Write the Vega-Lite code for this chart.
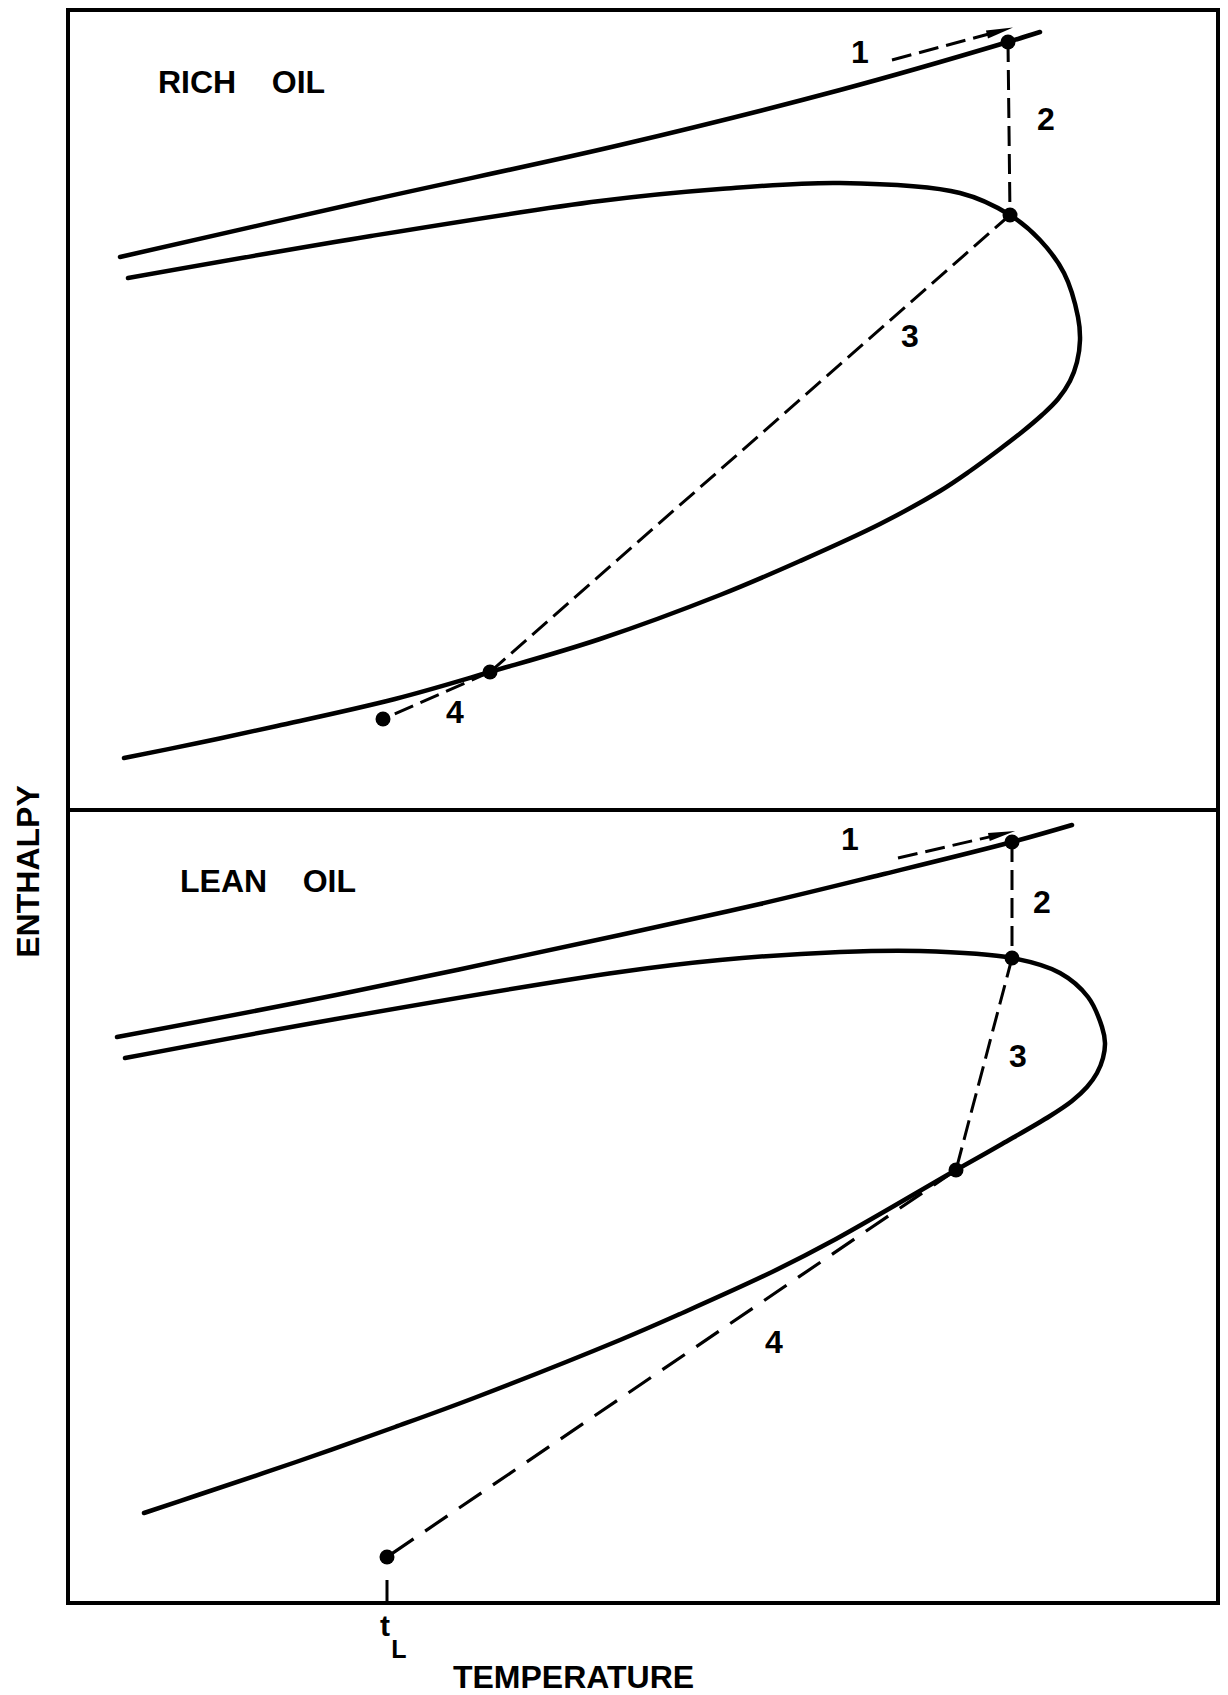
{
  "$schema": "https://vega.github.io/schema/vega-lite/v6.json",
  "width": 1150,
  "height": 1593,
  "autosize": {"type": "none"},
  "padding": {"left": 68, "top": 10, "right": 10, "bottom": 92},
  "background": "white",
  "config": {
    "view": {"stroke": "black", "strokeWidth": 4},
    "font": "Liberation Sans"
  },
  "datasets": {
    "curves": [
      {"s": "rich_vapor", "i": 0, "t": 52, "h": 1346},
      {"s": "rich_vapor", "i": 1, "t": 303, "h": 1403},
      {"s": "rich_vapor", "i": 2, "t": 552, "h": 1458},
      {"s": "rich_vapor", "i": 3, "t": 772, "h": 1513},
      {"s": "rich_vapor", "i": 4, "t": 940, "h": 1561},
      {"s": "rich_vapor", "i": 5, "t": 972, "h": 1571},
      {"s": "rich_env", "i": 0, "t": 60, "h": 1325},
      {"s": "rich_env", "i": 1, "t": 303, "h": 1367},
      {"s": "rich_env", "i": 2, "t": 532, "h": 1402},
      {"s": "rich_env", "i": 3, "t": 652, "h": 1414},
      {"s": "rich_env", "i": 4, "t": 772, "h": 1420},
      {"s": "rich_env", "i": 5, "t": 892, "h": 1410},
      {"s": "rich_env", "i": 6, "t": 942, "h": 1388},
      {"s": "rich_env", "i": 7, "t": 972, "h": 1363},
      {"s": "rich_env", "i": 8, "t": 996, "h": 1330},
      {"s": "rich_env", "i": 9, "t": 1010, "h": 1286},
      {"s": "rich_env", "i": 10, "t": 1012, "h": 1263},
      {"s": "rich_env", "i": 11, "t": 1009, "h": 1241},
      {"s": "rich_env", "i": 12, "t": 1002, "h": 1222},
      {"s": "rich_env", "i": 13, "t": 990, "h": 1204},
      {"s": "rich_env", "i": 14, "t": 974, "h": 1188},
      {"s": "rich_env", "i": 15, "t": 954, "h": 1171},
      {"s": "rich_env", "i": 16, "t": 932, "h": 1154},
      {"s": "rich_env", "i": 17, "t": 902, "h": 1132},
      {"s": "rich_env", "i": 18, "t": 872, "h": 1112},
      {"s": "rich_env", "i": 19, "t": 812, "h": 1079},
      {"s": "rich_env", "i": 20, "t": 732, "h": 1042},
      {"s": "rich_env", "i": 21, "t": 652, "h": 1008},
      {"s": "rich_env", "i": 22, "t": 532, "h": 964},
      {"s": "rich_env", "i": 23, "t": 422, "h": 931},
      {"s": "rich_env", "i": 24, "t": 327, "h": 904},
      {"s": "rich_env", "i": 25, "t": 209, "h": 877},
      {"s": "rich_env", "i": 26, "t": 130, "h": 860},
      {"s": "rich_env", "i": 27, "t": 56, "h": 845},
      {"s": "lean_vapor", "i": 0, "t": 49, "h": 566},
      {"s": "lean_vapor", "i": 1, "t": 268, "h": 608},
      {"s": "lean_vapor", "i": 2, "t": 552, "h": 668},
      {"s": "lean_vapor", "i": 3, "t": 692, "h": 699},
      {"s": "lean_vapor", "i": 4, "t": 812, "h": 728},
      {"s": "lean_vapor", "i": 5, "t": 944, "h": 761},
      {"s": "lean_vapor", "i": 6, "t": 1004, "h": 778},
      {"s": "lean_env", "i": 0, "t": 57, "h": 545},
      {"s": "lean_env", "i": 1, "t": 268, "h": 584},
      {"s": "lean_env", "i": 2, "t": 552, "h": 631},
      {"s": "lean_env", "i": 3, "t": 652, "h": 643},
      {"s": "lean_env", "i": 4, "t": 772, "h": 651},
      {"s": "lean_env", "i": 5, "t": 852, "h": 652},
      {"s": "lean_env", "i": 6, "t": 944, "h": 645},
      {"s": "lean_env", "i": 7, "t": 992, "h": 630},
      {"s": "lean_env", "i": 8, "t": 1020, "h": 606},
      {"s": "lean_env", "i": 9, "t": 1034, "h": 576},
      {"s": "lean_env", "i": 10, "t": 1037, "h": 560},
      {"s": "lean_env", "i": 11, "t": 1035, "h": 545},
      {"s": "lean_env", "i": 12, "t": 1029, "h": 530},
      {"s": "lean_env", "i": 13, "t": 1019, "h": 516},
      {"s": "lean_env", "i": 14, "t": 1004, "h": 502},
      {"s": "lean_env", "i": 15, "t": 982, "h": 487},
      {"s": "lean_env", "i": 16, "t": 934, "h": 459},
      {"s": "lean_env", "i": 17, "t": 888, "h": 433},
      {"s": "lean_env", "i": 18, "t": 768, "h": 364},
      {"s": "lean_env", "i": 19, "t": 704, "h": 331},
      {"s": "lean_env", "i": 20, "t": 612, "h": 289},
      {"s": "lean_env", "i": 21, "t": 552, "h": 263},
      {"s": "lean_env", "i": 22, "t": 406, "h": 205},
      {"s": "lean_env", "i": 23, "t": 327, "h": 176},
      {"s": "lean_env", "i": 24, "t": 228, "h": 141},
      {"s": "lean_env", "i": 25, "t": 130, "h": 108},
      {"s": "lean_env", "i": 26, "t": 76, "h": 90}
    ],
    "steps": [
      {"s": "r1", "i": 0, "t": 824, "h": 1543},
      {"s": "r1", "i": 1, "t": 932, "h": 1572},
      {"s": "r2", "i": 0, "t": 940, "h": 1561},
      {"s": "r2", "i": 1, "t": 942, "h": 1388},
      {"s": "r3", "i": 0, "t": 942, "h": 1388},
      {"s": "r3", "i": 1, "t": 422, "h": 931},
      {"s": "r4", "i": 0, "t": 422, "h": 931},
      {"s": "r4", "i": 1, "t": 315, "h": 884},
      {"s": "l1", "i": 0, "t": 830, "h": 745},
      {"s": "l1", "i": 1, "t": 934, "h": 769},
      {"s": "l2", "i": 0, "t": 944, "h": 761},
      {"s": "l2", "i": 1, "t": 944, "h": 645},
      {"s": "l3", "i": 0, "t": 944, "h": 645},
      {"s": "l3", "i": 1, "t": 888, "h": 433},
      {"s": "l4", "i": 0, "t": 888, "h": 433},
      {"s": "l4", "i": 1, "t": 319, "h": 46}
    ],
    "points": [
      {"t": 940, "h": 1561},
      {"t": 942, "h": 1388},
      {"t": 422, "h": 931},
      {"t": 315, "h": 884},
      {"t": 944, "h": 761},
      {"t": 944, "h": 645},
      {"t": 888, "h": 433},
      {"t": 319, "h": 46}
    ],
    "arrows": [
      {"t": 932, "h": 1572, "angle": 345},
      {"t": 934, "h": 769, "angle": 347}
    ],
    "numbers": [
      {"label": "1", "t": 792, "h": 1550},
      {"label": "2", "t": 978, "h": 1483},
      {"label": "3", "t": 842, "h": 1266},
      {"label": "4", "t": 387, "h": 890},
      {"label": "1", "t": 782, "h": 763},
      {"label": "2", "t": 974, "h": 700},
      {"label": "3", "t": 950, "h": 546},
      {"label": "4", "t": 706, "h": 260}
    ],
    "panels": [
      {"label": "RICH\u00a0\u00a0\u00a0\u00a0OIL", "t": 90, "h": 1510},
      {"label": "LEAN\u00a0\u00a0\u00a0\u00a0OIL", "t": 112, "h": 711}
    ]
  },
  "encoding": {
    "x": {
      "field": "t", "type": "quantitative",
      "scale": {"domain": [0, 1150], "nice": false, "zero": false},
      "axis": {
        "title": "TEMPERATURE", "domain": false, "ticks": false, "labels": false, "grid": false,
        "titleFontSize": 32, "titleFontWeight": "bold", "titleColor": "black",
        "titleX": 505, "titleY": 84, "titleBaseline": "alphabetic", "titleAlign": "center"
      }
    },
    "y": {
      "field": "h", "type": "quantitative",
      "scale": {"domain": [0, 1593], "nice": false, "zero": false},
      "axis": {
        "title": "ENTHALPY", "domain": false, "ticks": false, "labels": false, "grid": false,
        "titleFontSize": 32, "titleFontWeight": "bold", "titleColor": "black",
        "titleX": -30, "titleY": 861, "titleAngle": 270, "titleBaseline": "alphabetic", "titleAlign": "center"
      }
    }
  },
  "layer": [
    {
      "data": {"values": [{"t": 0, "t2": 1150, "h": 793}]},
      "mark": {"type": "rule", "color": "black", "strokeWidth": 4},
      "encoding": {"x2": {"field": "t2"}}
    },
    {
      "data": {"name": "curves"},
      "mark": {"type": "line", "color": "black", "strokeWidth": 4.5, "interpolate": "catmull-rom", "strokeCap": "round", "strokeJoin": "round"},
      "encoding": {"detail": {"field": "s"}, "order": {"field": "i", "type": "quantitative"}}
    },
    {
      "data": {"name": "steps"},
      "transform": [{"filter": "datum.s !== 'l4'"}],
      "mark": {"type": "line", "color": "black", "strokeWidth": 3, "strokeDash": [20, 8], "strokeCap": "butt"},
      "encoding": {"detail": {"field": "s"}, "order": {"field": "i", "type": "quantitative"}}
    },
    {
      "data": {"name": "steps"},
      "transform": [{"filter": "datum.s === 'l4'"}],
      "mark": {"type": "line", "color": "black", "strokeWidth": 3.2, "strokeDash": [27, 14], "strokeCap": "butt"},
      "encoding": {"detail": {"field": "s"}, "order": {"field": "i", "type": "quantitative"}}
    },
    {
      "data": {"values": [{"t": 319, "h": 0, "h2": 23}]},
      "mark": {"type": "rule", "color": "black", "strokeWidth": 3},
      "encoding": {"y2": {"field": "h2"}}
    },
    {
      "data": {"name": "points"},
      "mark": {"type": "point", "filled": true, "color": "black", "opacity": 1, "size": 225, "shape": "circle"}
    },
    {
      "data": {"name": "arrows"},
      "mark": {"type": "point", "filled": true, "color": "black", "opacity": 1, "size": 729, "shape": "M1,0L-1,-0.3L-1,0.3Z"},
      "encoding": {"angle": {"field": "angle", "type": "quantitative", "scale": null}}
    },
    {
      "data": {"name": "numbers"},
      "mark": {"type": "text", "color": "black", "fontSize": 32, "fontWeight": "bold", "align": "center", "baseline": "middle"},
      "encoding": {"text": {"field": "label"}}
    },
    {
      "data": {"name": "panels"},
      "mark": {"type": "text", "color": "black", "fontSize": 32, "fontWeight": "bold", "align": "left", "baseline": "alphabetic"},
      "encoding": {"text": {"field": "label"}}
    },
    {
      "data": {"values": [{"label": "t", "t": 317, "h": -24}]},
      "mark": {"type": "text", "color": "black", "fontSize": 30, "fontWeight": "bold", "align": "center", "baseline": "middle"},
      "encoding": {"text": {"field": "label"}}
    },
    {
      "data": {"values": [{"label": "L", "t": 331, "h": -47}]},
      "mark": {"type": "text", "color": "black", "fontSize": 25, "fontWeight": "bold", "align": "center", "baseline": "middle"},
      "encoding": {"text": {"field": "label"}}
    }
  ]
}
